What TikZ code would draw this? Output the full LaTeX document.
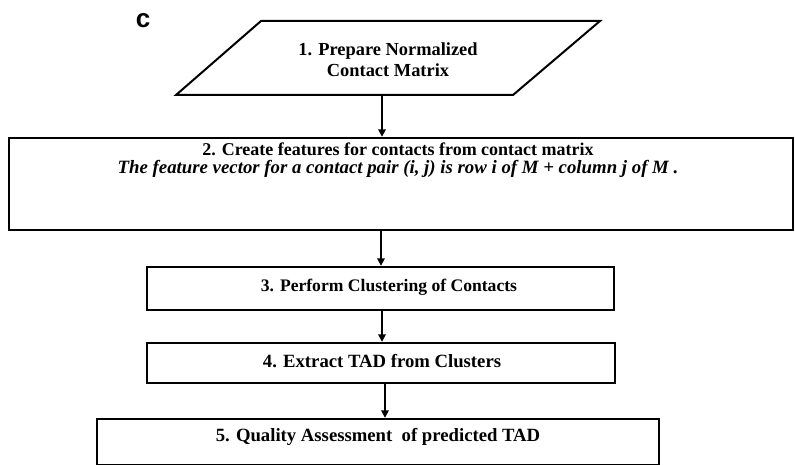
\documentclass[tikz,border=0pt]{standalone}
\usepackage{fontspec}
\setmainfont{Liberation Serif}
\newfontfamily\lsans{Liberation Sans}
\usetikzlibrary{arrows.meta}
\begin{document}
\begin{tikzpicture}[x=1pt,y=-1pt,
  box/.style={draw, line width=2.4pt, inner sep=0pt},
  arr/.style={line width=1.7pt, -{Triangle[width=7.5pt,length=7.5pt]}},
  txt/.style={align=center, inner sep=0pt, font=\bfseries}]
\useasboundingbox (0,0) rectangle (795,465);
\fill[white] (0,0) rectangle (795,465);
% panel label
\node[font=\lsans\fontsize{26}{26}\selectfont\bfseries, inner sep=0pt] (lab) at (143,21) {c};
% step 1 (parallelogram)
\coordinate (pa) at (176,95);
\coordinate (pb) at (513,95);
\coordinate (pc) at (600,21);
\coordinate (pd) at (261,21);
\draw[line width=2pt, line join=miter] (pa) -- (pb) -- (pc) -- (pd) -- cycle;
\node[txt, font=\fontsize{18.4}{21}\selectfont\bfseries] (t1) at (388,60) {1. Prepare Normalized\\Contact Matrix};
\coordinate (a1) at (382,95);
% step 2
\node[box, minimum width=784pt, minimum height=92pt] (b2) at (401,184) {};
\node[txt, font=\fontsize{18}{18}\selectfont\bfseries] (t2) at (398,160) {2. Create features for contacts from contact matrix\\{\fontsize{18.8}{18}\selectfont\itshape The feature vector for a contact pair (i, j) is row i of M + column j of M .}};
% step 3
\node[box, minimum width=467pt, minimum height=43pt] (b3) at (380.5,288.5) {};
\node[txt, font=\fontsize{17.6}{20}\selectfont\bfseries] (t3) at (389,287.5) {3. Perform Clustering of Contacts};
% step 4
\node[box, minimum width=468pt, minimum height=40pt] (b4) at (381,363) {};
\node[txt, font=\fontsize{18.7}{20}\selectfont\bfseries] (t4) at (382,361.5) {4. Extract TAD from Clusters};
% step 5
\node[box, minimum width=562pt, minimum height=46pt] (b5) at (378,442) {};
\node[txt, font=\fontsize{18.7}{20}\selectfont\bfseries] (t5) at (378,436.5) {5. Quality Assessment\ \ of predicted TAD};
% connectors
\draw[arr] (a1) -- (a1 |- b2.north);
\draw[arr] ([xshift=-20pt]b2.south) -- ([xshift=-20pt]b2.south |- b3.north);
\draw[arr] ([xshift=1.5pt]b3.south) -- ([xshift=1.5pt]b3.south |- b4.north);
\draw[arr] ([xshift=4pt]b4.south) -- ([xshift=4pt]b4.south |- b5.north);
\end{tikzpicture}
\end{document}
